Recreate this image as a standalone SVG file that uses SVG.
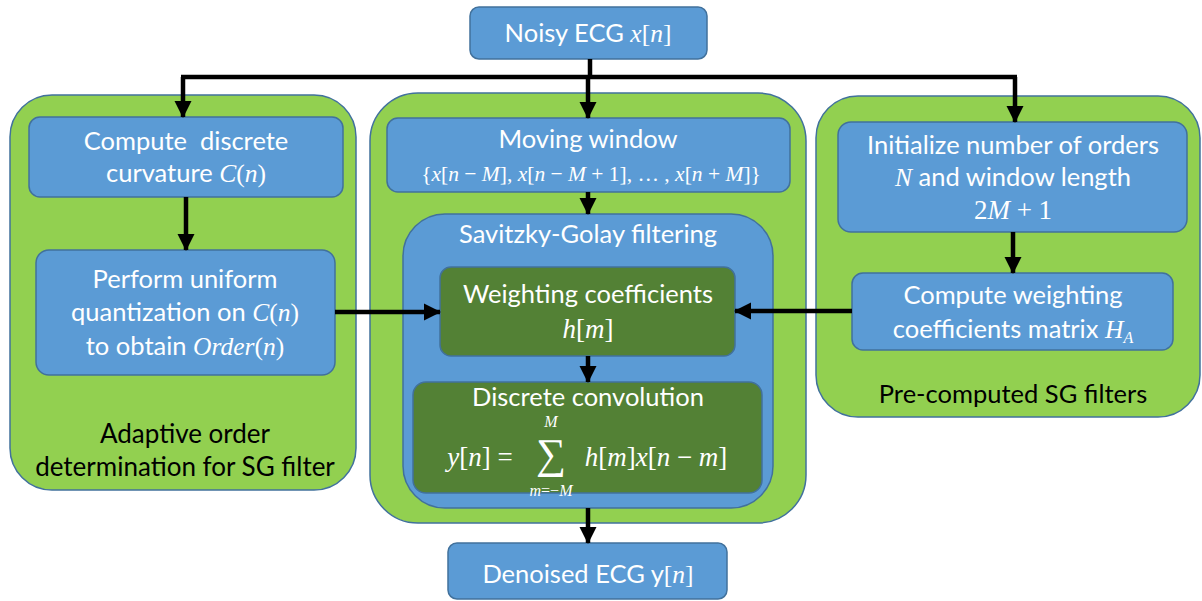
<svg xmlns="http://www.w3.org/2000/svg" width="1202" height="601" viewBox="0 0 1202 601">
<defs>
<marker id="ah" markerUnits="userSpaceOnUse" markerWidth="18" markerHeight="18" viewBox="0 0 18 18" refX="16" refY="9" orient="auto">
<path d="M0,0.5 L17,9 L0,17.5 Z" fill="#000"/>
</marker>
<style>
.panel{fill:#92D050;stroke:#41719C;stroke-width:1.5}
.blue{fill:#5B9BD5;stroke:#41719C;stroke-width:1.5}
.dg{fill:#538135;stroke:#41719C;stroke-width:1.5}
.t{font-family:Lato,"Liberation Sans",sans-serif;font-size:25.5px;fill:#fff;text-anchor:middle}
.k{font-family:Lato,"Liberation Sans",sans-serif;font-size:25.5px;fill:#000;text-anchor:middle}
.m{font-family:"Liberation Serif",serif;font-style:italic}
.u{font-family:"Liberation Serif",serif;font-style:normal}
.c{fill:none;stroke:#000;stroke-width:4.5}
</style>
</defs>
<g id="panel-left"><rect class="panel" x="10" y="95" width="346" height="395" rx="42"/>
<text class="k" x="185" y="443" style="font-size:26px">Adaptive order</text>
<text class="k" x="185" y="476" style="font-size:26px">determination for SG filter</text></g>
<g id="panel-mid"><rect class="panel" x="370" y="93" width="436" height="430" rx="48"/></g>
<g id="panel-right"><rect class="panel" x="816" y="96" width="384" height="321" rx="42"/>
<text class="k" x="1013" y="403">Pre-computed SG filters</text></g>
<g id="sg"><rect class="blue" x="403" y="214" width="370" height="294" rx="42"/>
<text class="t" x="588" y="243">Savitzky-Golay filtering</text></g>

<g id="noisy"><rect class="blue" x="470" y="7" width="237" height="52" rx="9"/>
<text class="t" x="588" y="42">Noisy ECG <tspan class="m">x</tspan><tspan class="u">[</tspan><tspan class="m">n</tspan><tspan class="u">]</tspan></text></g>
<g id="curv"><rect class="blue" x="29" y="117" width="314" height="80" rx="11"/>
<text class="t" x="186" y="150" xml:space="preserve">Compute  discrete</text>
<text class="t" x="186" y="182">curvature <tspan class="m">C</tspan><tspan class="u">(</tspan><tspan class="m">n</tspan><tspan class="u">)</tspan></text></g>
<g id="quant"><rect class="blue" x="36" y="250" width="299" height="125" rx="13"/>
<text class="t" x="185" y="288">Perform uniform</text>
<text class="t" x="185" y="321">quantization on <tspan class="m">C</tspan><tspan class="u">(</tspan><tspan class="m">n</tspan><tspan class="u">)</tspan></text>
<text class="t" x="185" y="355">to obtain <tspan class="m">Order</tspan><tspan class="u">(</tspan><tspan class="m">n</tspan><tspan class="u">)</tspan></text></g>
<g id="window"><rect class="blue" x="387" y="118" width="403" height="74" rx="11"/>
<text class="t" x="588" y="148">Moving window</text>
<text class="t u" x="591" y="181" style="font-size:21.5px">{<tspan class="m">x</tspan>[<tspan class="m">n</tspan> − <tspan class="m">M</tspan>], <tspan class="m">x</tspan>[<tspan class="m">n</tspan> − <tspan class="m">M</tspan> + 1], … , <tspan class="m">x</tspan>[<tspan class="m">n</tspan> + <tspan class="m">M</tspan>]}</text></g>
<g id="weights"><rect class="dg" x="440" y="267" width="295" height="89" rx="11"/>
<text class="t" x="588" y="303">Weighting coefficients</text>
<text class="t u" x="588" y="338" style="font-size:27px"><tspan class="m">h</tspan>[<tspan class="m">m</tspan>]</text></g>
<g id="conv"><rect class="dg" x="413" y="382" width="349" height="111" rx="13"/>
<text class="t" x="588" y="406">Discrete convolution</text>
<text class="t u" x="480" y="466" style="font-size:27px"><tspan class="m">y</tspan>[<tspan class="m">n</tspan>] =</text>
<text class="t u" x="551" y="468" style="font-size:42px">∑</text>
<text class="t m" x="551" y="427" style="font-size:16px">M</text>
<text class="t u" x="551" y="496" style="font-size:16px"><tspan class="m">m</tspan>=−<tspan class="m">M</tspan></text>
<text class="t u" x="656" y="466" style="font-size:27px"><tspan class="m">h</tspan>[<tspan class="m">m</tspan>]<tspan class="m">x</tspan>[<tspan class="m">n</tspan> − <tspan class="m">m</tspan>]</text></g>
<g id="denoised"><rect class="blue" x="448" y="543" width="279" height="56" rx="9"/>
<text class="t" x="588" y="583">Denoised ECG y<tspan class="u">[</tspan><tspan class="m">n</tspan><tspan class="u">]</tspan></text></g>
<g id="init"><rect class="blue" x="838" y="122" width="349" height="110" rx="13"/>
<text class="t" x="1013" y="154">Initialize number of orders</text>
<text class="t" x="1013" y="186"><tspan class="m">N</tspan> and window length</text>
<text class="t u" x="1013" y="219" style="font-size:27px">2<tspan class="m">M</tspan> + 1</text></g>
<g id="hmat"><rect class="blue" x="852" y="273" width="321" height="77" rx="11"/>
<text class="t" x="1013" y="304">Compute weighting</text>
<text class="t" x="1013" y="338">coefficients matrix <tspan class="m">H</tspan><tspan class="m" style="font-size:16px" dy="5">A</tspan></text></g>

<g id="connectors">
<path class="c" d="M590,59 V77"/>
<path class="c" d="M181,77 H1017"/>
<path class="c" d="M183,77 V117" marker-end="url(#ah)"/>
<path class="c" d="M588,77 V118" marker-end="url(#ah)"/>
<path class="c" d="M1015,77 V122" marker-end="url(#ah)"/>
<path class="c" d="M186,197 V250" marker-end="url(#ah)"/>
<path class="c" d="M588,192 V214" marker-end="url(#ah)"/>
<path class="c" d="M1013,232 V273" marker-end="url(#ah)"/>
<path class="c" d="M335,312 H440" marker-end="url(#ah)"/>
<path class="c" d="M852,311 H735" marker-end="url(#ah)"/>
<path class="c" d="M588,356 V382" marker-end="url(#ah)"/>
<path class="c" d="M588,508 V543" marker-end="url(#ah)"/>
</g>
</svg>
